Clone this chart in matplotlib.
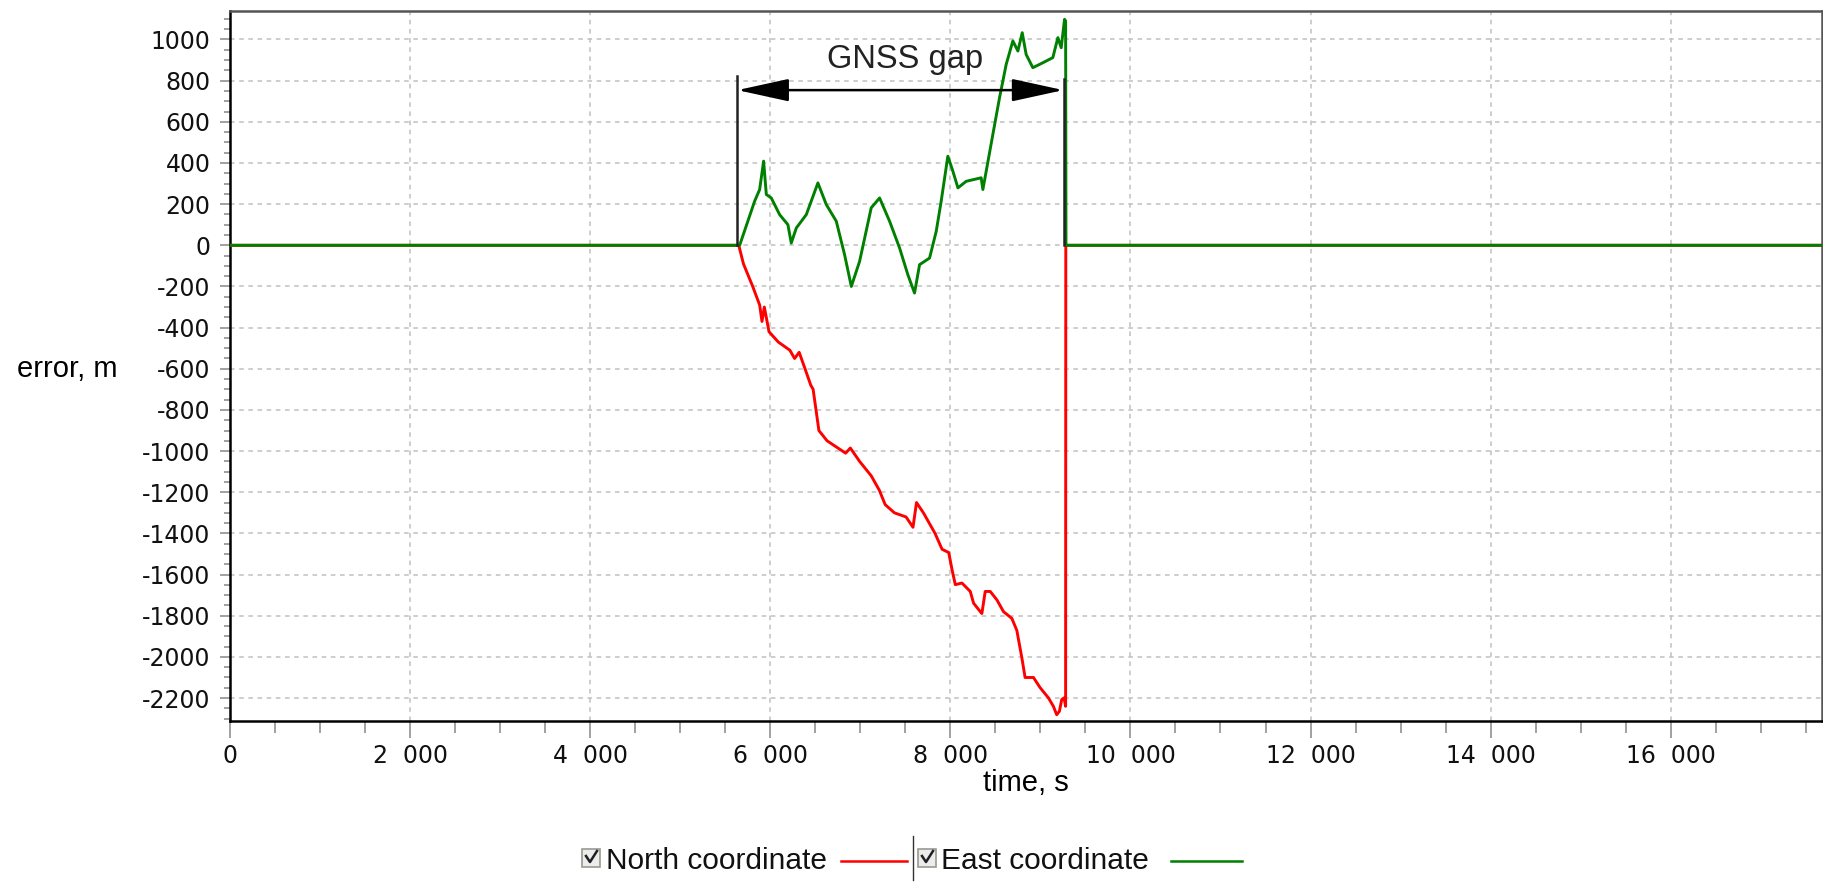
import numpy as np
import matplotlib.pyplot as plt
from matplotlib.lines import Line2D
from matplotlib.patches import Rectangle
from matplotlib.ticker import MultipleLocator, FixedLocator

plt.rcParams['font.family'] = 'DejaVu Sans'
plt.rcParams['axes.unicode_minus'] = False

# East coordinate error (green), time in s, error in m
east_t = [0, 5660, 5826, 5882, 5926, 5956, 6011, 6104, 6196, 6233, 6289, 6400,
          6529, 6622, 6733, 6825, 6900, 6992, 7121, 7214, 7325, 7436, 7528,
          7602, 7658, 7769, 7843, 7898, 7972, 8028, 8084, 8176, 8342, 8361,
          8398, 8472, 8546, 8620, 8694, 8750, 8798, 8842, 8916, 9027, 9138,
          9194, 9231, 9268, 9280, 9284, 17680]
east_v = [0, 0, 214, 271, 409, 247, 230, 149, 100, 11, 84, 149,
          303, 198, 117, -45, -200, -78, 182, 230, 117, -13, -143,
          -232, -94, -62, 68, 214, 433, 360, 279, 311, 328, 271,
          360, 539, 717, 879, 993, 944, 1033, 927, 863, 887, 912,
          1009, 960, 1098, 1090, 0, 0]

# North coordinate error (red)
north_t = [0, 5650, 5702, 5805, 5882, 5908, 5934, 5986, 6089, 6218, 6270,
           6321, 6386, 6450, 6476, 6540, 6631, 6734, 6837, 6889, 6992, 7121,
           7211, 7276, 7379, 7508, 7585, 7624, 7701, 7830, 7908, 7982, 8018,
           8055, 8129, 8221, 8258, 8332, 8350, 8387, 8443, 8517, 8590, 8683,
           8738, 8793, 8830, 8923, 8996, 9089, 9144, 9181, 9211, 9237, 9263,
           9280, 9282, 17680]
north_v = [0, 0, -90, -200, -290, -370, -300, -420, -470, -510, -550,
           -520, -600, -680, -700, -900, -950, -980, -1010, -985, -1050, -1120,
           -1190, -1260, -1300, -1320, -1370, -1250, -1300, -1400, -1477, -1493, -1575,
           -1649, -1641, -1682, -1739, -1780, -1789, -1682, -1682, -1723, -1780, -1813,
           -1871, -2002, -2100, -2100, -2149, -2199, -2240, -2281, -2264, -2207, -2199,
           -2240, 0, 0]

gap_start, gap_end = 5630, 9260
gap_top = [822, 806]
arrow_y = 754

x_major = np.arange(0, 17000, 2000)
x_labels = ['0'] + ['%d  000' % (v // 1000) for v in x_major[1:]]

fig = plt.figure(figsize=(18.24, 8.83), dpi=100)
ax = fig.add_axes([0.1261, 0.1838, 0.8728, 0.8041])

ax.plot(north_t, north_v, color='#ff0000', lw=2.1, zorder=3)
ax.plot(east_t, east_v, color='#008000', lw=2.1, zorder=4)

# GNSS gap markers
ax.plot([gap_start, gap_start], [0, gap_top[0]], color='#222222', lw=1.8, zorder=5)
ax.plot([gap_end, gap_end], [0, gap_top[1]], color='#222222', lw=1.8, zorder=5)
ax.annotate('', xy=(gap_start + 5, arrow_y), xytext=(gap_end - 5, arrow_y),
            arrowprops=dict(arrowstyle='<|-|>,head_length=3.2,head_width=0.7',
                            mutation_scale=10, color='black', lw=1.8,
                            shrinkA=0, shrinkB=0), zorder=6)
ax.text(7500, 905, 'GNSS gap', ha='center', va='center', fontsize=23.5,
        family='Liberation Sans', color='#222222')

ax.set_xlim(0, 17680)
ax.set_ylim(-2310, 1140)

ax.xaxis.set_major_locator(FixedLocator(x_major))
ax.set_xticklabels(x_labels)
ax.xaxis.set_minor_locator(MultipleLocator(500))
ax.yaxis.set_major_locator(MultipleLocator(200))
ax.yaxis.set_minor_locator(MultipleLocator(50))

ax.tick_params(axis='x', which='major', length=12, width=1.1, color='#888888',
               labelsize=17, pad=5)
ax.tick_params(axis='x', which='minor', length=8.5, width=1.1, color='#888888')
ax.tick_params(axis='y', which='major', length=7, width=1.1, color='#888888',
               labelsize=17, pad=7)
ax.tick_params(axis='y', which='minor', length=4.5, width=1.1, color='#888888')
for lab in ax.get_xticklabels() + ax.get_yticklabels():
    lab.set_color('#111111')

ax.grid(True, which='major', color='#c0c0c0', linestyle=(0, (3, 3)), lw=1.1)
ax.set_axisbelow(True)

for side in ['left', 'bottom']:
    ax.spines[side].set_color('black')
    ax.spines[side].set_linewidth(1.8)
for side in ['top', 'right']:
    ax.spines[side].set_color('#555555')
    ax.spines[side].set_linewidth(1.8)

ax.set_ylabel('error, m', rotation=0, fontsize=21, family='Liberation Sans',
              va='center', ha='center')
ax.yaxis.set_label_coords(-0.1024, 0.4954)
ax.set_xlabel('time, s', fontsize=21, family='Liberation Sans', va='center')
ax.xaxis.set_label_coords(0.5, -0.088)

# legend row drawn by hand (checkboxes, labels, line samples)
W, H = 1824.0, 883.0
ly = 1 - 861 / H


def checkbox(x0):
    fig.patches.append(Rectangle((x0 / W, 1 - 867 / H), 18 / W, 18 / H,
                                 transform=fig.transFigure, facecolor='#ececec',
                                 edgecolor='#9a9a90', lw=1.2))
    fig.lines.append(Line2D([(x0 + 4) / W, (x0 + 8) / W, (x0 + 15) / W],
                            [1 - 856 / H, 1 - 862 / H, 1 - 851 / H],
                            transform=fig.transFigure, color='#202020', lw=1.8))


checkbox(582)
fig.text(606 / W, ly, 'North coordinate', fontsize=21.5, family='Liberation Sans',
         ha='left', va='center', color='#111111')
fig.lines.append(Line2D([841 / W, 907 / W], [ly, ly], transform=fig.transFigure,
                        color='#ff0000', lw=1.8))
fig.lines.append(Line2D([913 / W, 913 / W], [1 - 836 / H, 1 - 880 / H],
                        transform=fig.transFigure, color='#333333', lw=1.0))
checkbox(918)
fig.text(941 / W, ly, 'East coordinate', fontsize=21.5, family='Liberation Sans',
         ha='left', va='center', color='#111111')
fig.lines.append(Line2D([1171 / W, 1242 / W], [ly, ly], transform=fig.transFigure,
                        color='#008000', lw=1.8))

fig.savefig('out.png', dpi=100)
